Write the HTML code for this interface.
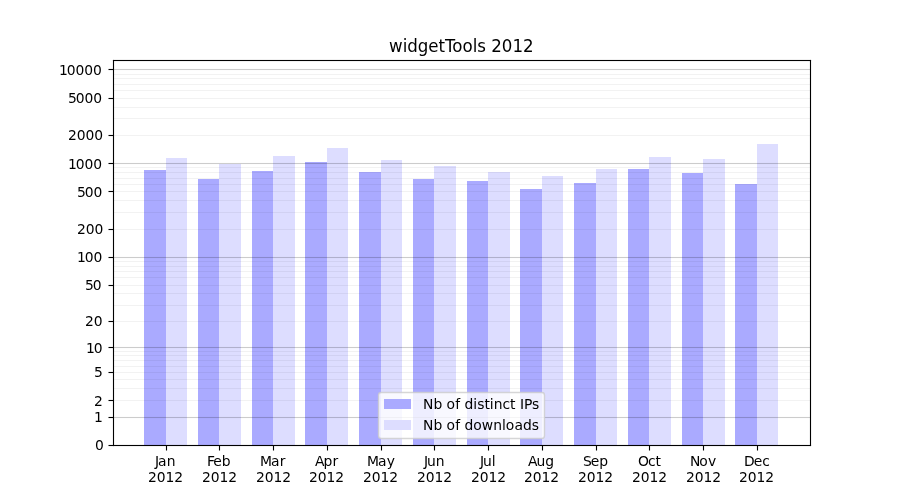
<!DOCTYPE html>
<html lang="en"><head><meta charset="utf-8"><title>widgetTools 2012</title>
<style>
html,body{margin:0;padding:0;background:#fff;}
body{width:900px;height:500px;overflow:hidden;}
svg{display:block;}
text{font-family:"DejaVu Sans","Liberation Sans",sans-serif;fill:#000;font-kerning:none;}
.t{font-size:13.89px;}
.ttl{font-size:16.67px;}
</style></head><body>
<svg width="900" height="500" viewBox="0 0 900 500">
<rect width="900" height="500" fill="#fff"/>
<g shape-rendering="crispEdges">
<rect x="144" y="170" width="22" height="275" fill="#aaaaff"/><rect x="166" y="158" width="21" height="287" fill="#ddddff"/>
<rect x="198" y="179" width="21" height="266" fill="#aaaaff"/><rect x="219" y="164" width="22" height="281" fill="#ddddff"/>
<rect x="252" y="171" width="21" height="274" fill="#aaaaff"/><rect x="273" y="156" width="22" height="289" fill="#ddddff"/>
<rect x="305" y="162" width="22" height="283" fill="#aaaaff"/><rect x="327" y="148" width="21" height="297" fill="#ddddff"/>
<rect x="359" y="172" width="22" height="273" fill="#aaaaff"/><rect x="381" y="160" width="21" height="285" fill="#ddddff"/>
<rect x="413" y="179" width="21" height="266" fill="#aaaaff"/><rect x="434" y="166" width="22" height="279" fill="#ddddff"/>
<rect x="467" y="181" width="21" height="264" fill="#aaaaff"/><rect x="488" y="172" width="22" height="273" fill="#ddddff"/>
<rect x="520" y="189" width="22" height="256" fill="#aaaaff"/><rect x="542" y="176" width="21" height="269" fill="#ddddff"/>
<rect x="574" y="183" width="22" height="262" fill="#aaaaff"/><rect x="596" y="169" width="21" height="276" fill="#ddddff"/>
<rect x="628" y="169" width="21" height="276" fill="#aaaaff"/><rect x="649" y="157" width="22" height="288" fill="#ddddff"/>
<rect x="682" y="173" width="21" height="272" fill="#aaaaff"/><rect x="703" y="159" width="22" height="286" fill="#ddddff"/>
<rect x="735" y="184" width="22" height="261" fill="#aaaaff"/><rect x="757" y="144" width="21" height="301" fill="#ddddff"/>
</g>
<g fill="rgba(0,0,0,0.05)">
<rect x="113" y="399.945" width="697.5" height="1.11"/><rect x="113" y="387.945" width="697.5" height="1.11"/><rect x="113" y="378.945" width="697.5" height="1.11"/><rect x="113" y="371.945" width="697.5" height="1.11"/><rect x="113" y="365.945" width="697.5" height="1.11"/><rect x="113" y="359.945" width="697.5" height="1.11"/><rect x="113" y="354.945" width="697.5" height="1.11"/><rect x="113" y="350.945" width="697.5" height="1.11"/><rect x="113" y="320.945" width="697.5" height="1.11"/><rect x="113" y="304.945" width="697.5" height="1.11"/><rect x="113" y="292.945" width="697.5" height="1.11"/><rect x="113" y="284.945" width="697.5" height="1.11"/><rect x="113" y="276.945" width="697.5" height="1.11"/><rect x="113" y="270.945" width="697.5" height="1.11"/><rect x="113" y="265.945" width="697.5" height="1.11"/><rect x="113" y="260.945" width="697.5" height="1.11"/><rect x="113" y="228.945" width="697.5" height="1.11"/><rect x="113" y="211.945" width="697.5" height="1.11"/><rect x="113" y="199.945" width="697.5" height="1.11"/><rect x="113" y="190.945" width="697.5" height="1.11"/><rect x="113" y="183.945" width="697.5" height="1.11"/><rect x="113" y="177.945" width="697.5" height="1.11"/><rect x="113" y="171.945" width="697.5" height="1.11"/><rect x="113" y="166.945" width="697.5" height="1.11"/><rect x="113" y="134.945" width="697.5" height="1.11"/><rect x="113" y="117.945" width="697.5" height="1.11"/><rect x="113" y="106.945" width="697.5" height="1.11"/><rect x="113" y="97.945" width="697.5" height="1.11"/><rect x="113" y="89.945" width="697.5" height="1.11"/><rect x="113" y="83.945" width="697.5" height="1.11"/><rect x="113" y="77.945" width="697.5" height="1.11"/><rect x="113" y="73.945" width="697.5" height="1.11"/>
</g>
<g fill="rgba(0,0,0,0.2)">
<rect x="113" y="416.945" width="697.5" height="1.11"/><rect x="113" y="346.945" width="697.5" height="1.11"/><rect x="113" y="256.945" width="697.5" height="1.11"/><rect x="113" y="162.945" width="697.5" height="1.11"/><rect x="113" y="68.945" width="697.5" height="1.11"/>
</g>
<g fill="#000">
<rect x="165.945" y="445.5" width="1.11" height="5"/><rect x="218.945" y="445.5" width="1.11" height="5"/><rect x="272.945" y="445.5" width="1.11" height="5"/><rect x="326.945" y="445.5" width="1.11" height="5"/><rect x="380.945" y="445.5" width="1.11" height="5"/><rect x="433.945" y="445.5" width="1.11" height="5"/><rect x="487.945" y="445.5" width="1.11" height="5"/><rect x="541.945" y="445.5" width="1.11" height="5"/><rect x="595.945" y="445.5" width="1.11" height="5"/><rect x="648.945" y="445.5" width="1.11" height="5"/><rect x="702.945" y="445.5" width="1.11" height="5"/><rect x="756.945" y="445.5" width="1.11" height="5"/>
<rect x="108.5" y="444.945" width="5" height="1.11"/><rect x="108.5" y="416.945" width="5" height="1.11"/><rect x="108.5" y="399.945" width="5" height="1.11"/><rect x="108.5" y="371.945" width="5" height="1.11"/><rect x="108.5" y="346.945" width="5" height="1.11"/><rect x="108.5" y="320.945" width="5" height="1.11"/><rect x="108.5" y="284.945" width="5" height="1.11"/><rect x="108.5" y="256.945" width="5" height="1.11"/><rect x="108.5" y="228.945" width="5" height="1.11"/><rect x="108.5" y="190.945" width="5" height="1.11"/><rect x="108.5" y="162.945" width="5" height="1.11"/><rect x="108.5" y="134.945" width="5" height="1.11"/><rect x="108.5" y="97.945" width="5" height="1.11"/><rect x="108.5" y="68.945" width="5" height="1.11"/>
</g>
<g fill="#000"><rect x="112.945" y="59.945" width="1.11" height="386.11"/><rect x="809.945" y="59.945" width="1.11" height="386.11"/><rect x="112.945" y="59.945" width="698.11" height="1.11"/><rect x="112.945" y="444.945" width="698.11" height="1.11"/></g>
<g>
<text class="ttl" transform="translate(0 52) scale(1 1.08)" x="389 402.75 407.25 417.75 428.25 438.5 445 452.25 462.5 472.75 477.25 487.5 491.25 501.75 512.5 523" y="0">widgetTools 2012</text>
<text class="t" x="95" y="450">0</text>
<text class="t" x="94" y="422">1</text>
<text class="t" x="94" y="406">2</text>
<text class="t" x="94" y="377">5</text>
<text class="t" x="86 93.75" y="353">10</text>
<text class="t" x="85 93.75" y="326">20</text>
<text class="t" x="85 92.75" y="290">50</text>
<text class="t" x="77 84.75 93.5" y="262">100</text>
<text class="t" x="77 85.75 94.5" y="234">200</text>
<text class="t" x="77 84.75 93.5" y="197">500</text>
<text class="t" x="68 75.75 84.5 93.25" y="169">1000</text>
<text class="t" x="68 76.75 85.5 94.25" y="140">2000</text>
<text class="t" x="68 75.75 84.5 93.25" y="103">5000</text>
<text class="t" x="59 66.75 75.5 84.25 93" y="75">10000</text>
<text class="t" x="155 158 166.75" y="466">Jan</text>
<text class="t" x="148 156.75 165.5 174.25" y="482">2012</text>
<text class="t" x="207 213.25 221.75" y="466">Feb</text>
<text class="t" x="202 210.75 219.5 228.25" y="482">2012</text>
<text class="t" x="260 271 279.75" y="466">Mar</text>
<text class="t" x="256 264.75 273.5 282.25" y="482">2012</text>
<text class="t" x="315 323.5 332.5" y="466">Apr</text>
<text class="t" x="309 317.75 326.5 335.25" y="482">2012</text>
<text class="t" x="367 378 386.75" y="466">May</text>
<text class="t" x="363 371.75 380.5 389.25" y="482">2012</text>
<text class="t" x="424 427 435.75" y="466">Jun</text>
<text class="t" x="417 425.75 434.5 443.25" y="482">2012</text>
<text class="t" x="480 483 491.75" y="466">Jul</text>
<text class="t" x="471 479.75 488.5 497.25" y="482">2012</text>
<text class="t" x="528 536.5 545.25" y="466">Aug</text>
<text class="t" x="524 532.75 541.5 550.25" y="482">2012</text>
<text class="t" x="583 590.75 599.25" y="466">Sep</text>
<text class="t" x="578 586.75 595.5 604.25" y="482">2012</text>
<text class="t" x="638 648 655.5" y="466">Oct</text>
<text class="t" x="632 640.75 649.5 658.25" y="482">2012</text>
<text class="t" x="690 699.25 708" y="466">Nov</text>
<text class="t" x="686 694.75 703.5 712.25" y="482">2012</text>
<text class="t" x="744 753.75 762.25" y="466">Dec</text>
<text class="t" x="739 747.75 756.5 765.25" y="482">2012</text>
</g>
<rect x="378.5" y="392.5" width="166" height="46" rx="2.78" ry="2.78" fill="rgba(255,255,255,0.8)" stroke="rgba(204,204,204,0.8)" stroke-width="1.39"/>
<g shape-rendering="crispEdges"><rect x="384" y="399" width="27" height="10" fill="#aaaaff"/><rect x="384" y="420" width="27" height="10" fill="#ddddff"/></g>
<g>
<text class="t" x="423 433.5 441.75 446.5 455.25 459.5 464.5 473.25 477.25 484.5 489.75 493.75 502.5 510 515 520 524 532" y="409">Nb of distinct IPs</text>
<text class="t" x="423 433.5 441.75 446.5 455.25 459.5 464.5 473.25 481.75 493.25 502 505.75 514.5 523 531.75" y="430">Nb of downloads</text>
</g>
</svg>
</body></html>
